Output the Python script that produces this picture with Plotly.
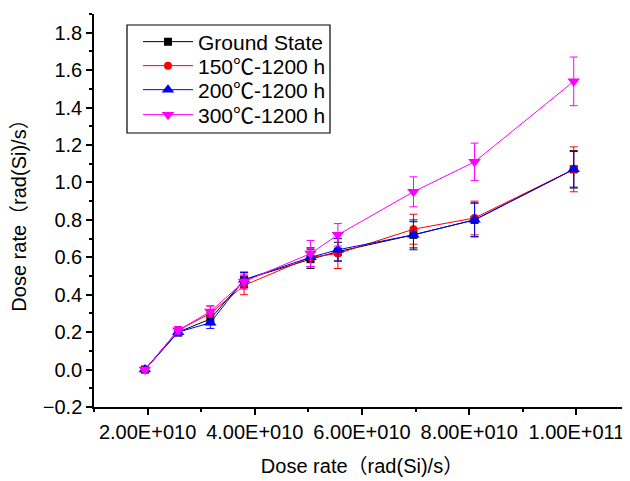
import plotly.graph_objects as go

dose_rate = [1.95e10, 2.57e10, 3.17e10, 3.8e10, 5.04e10, 5.55e10, 6.96e10, 8.1e10, 9.95e10]

ground = [0.0, 0.20, 0.27, 0.48, 0.59, 0.63, 0.72, 0.80, 1.07]
ground_err = [0.01, 0.02, 0.03, 0.04, 0.05, 0.05, 0.07, 0.09, 0.10]

t150 = [0.0, 0.21, 0.30, 0.45, 0.60, 0.62, 0.75, 0.81, 1.07]
t150_err = [0.01, 0.02, 0.04, 0.05, 0.05, 0.08, 0.08, 0.09, 0.12]

t200 = [0.0, 0.20, 0.25, 0.48, 0.60, 0.64, 0.72, 0.80, 1.07]
t200_err = [0.01, 0.02, 0.03, 0.04, 0.05, 0.06, 0.08, 0.09, 0.095]

t300 = [0.0, 0.21, 0.31, 0.47, 0.62, 0.72, 0.95, 1.11, 1.54]
t300_err = [0.01, 0.02, 0.03, 0.04, 0.07, 0.06, 0.08, 0.10, 0.13]

DEG = "<span style='font-family:Noto Sans CJK SC'>℃</span>"
series_names = ["Ground State", f"150{DEG}-1200 h", f"200{DEG}-1200 h", f"300{DEG}-1200 h"]
x_tickvals = [2e10, 4e10, 6e10, 8e10, 1e11]
x_ticktext = ["2.00E+010", "4.00E+010", "6.00E+010", "8.00E+010", "1.00E+011"]

styles = [
    ("black", "square", 8),
    ("red", "circle", 8),
    ("blue", "triangle-up", 11),
    ("magenta", "triangle-down", 11),
]
legend_ids = ["legend", "legend2", "legend3", "legend4"]

fig = go.Figure()
for name, ys, errs, (col, sym, sz), lg in zip(
    series_names,
    [ground, t150, t200, t300],
    [ground_err, t150_err, t200_err, t300_err],
    styles, legend_ids,
):
    fig.add_trace(go.Scatter(
        x=dose_rate, y=ys, name=name, mode="lines+markers", legend=lg,
        line=dict(color=col, width=1),
        marker=dict(color=col, symbol=sym, size=sz),
        error_y=dict(type="data", array=errs, visible=True, color=col,
                     thickness=1, width=4),
    ))

font_family = "Liberation Sans, Arial, Noto Sans CJK SC, sans-serif"
FS = 20

# plot area in window pixels: x 94..630, y 14..407
def py(p):
    return (407 - p) / 393.0

def px(p):
    return (p - 94) / 536.0

row_centers = [42, 66, 90, 115]
legends = {}
for lg, rc in zip(legend_ids, row_centers):
    legends[lg] = dict(
        x=px(138), y=py(rc), xanchor="left", yanchor="middle",
        borderwidth=0, bgcolor="rgba(0,0,0,0)",
        font=dict(size=21, family=font_family), itemwidth=50,
    )

fig.update_layout(
    width=622, height=473,
    margin=dict(l=86, r=0, t=6, b=74, autoexpand=False),
    paper_bgcolor="white", plot_bgcolor="white",
    font=dict(family=font_family, size=FS, color="black"),
    showlegend=True,
    shapes=[dict(type="rect", xref="paper", yref="paper",
                 x0=px(127), x1=px(330), y0=py(133), y1=py(25),
                 line=dict(color="black", width=1.2), fillcolor="white", layer="above")],
    xaxis=dict(
        range=[1e10, 1.1e11], automargin=False, tickangle=0,
        tickmode="array", tickvals=x_tickvals, ticktext=x_ticktext,
        ticks="outside", ticklen=6, tickwidth=1.5, tickcolor="black",
        minor=dict(tickmode="linear", tick0=1e10, dtick=2e10, ticks="outside",
                   ticklen=3, tickwidth=1.5, tickcolor="black"),
        showline=True, linecolor="black", linewidth=1.5,
        showgrid=False, zeroline=False,
        title=dict(text="Dose rate（rad(Si)/s）", font=dict(size=FS), standoff=17),
        tickfont=dict(size=FS),
    ),
    yaxis=dict(
        range=[-0.2, 1.9], automargin=False,
        tickmode="linear", tick0=0, dtick=0.2, tickformat=".1f",
        ticks="outside", ticklen=6, tickwidth=1.5, tickcolor="black",
        minor=dict(tickmode="linear", tick0=0.1, dtick=0.2, ticks="outside",
                   ticklen=3, tickwidth=1.5, tickcolor="black"),
        showline=True, linecolor="black", linewidth=1.5,
        showgrid=False, zeroline=False,
        title=dict(text="Dose rate（rad(Si)/s）", font=dict(size=FS), standoff=14),
        tickfont=dict(size=FS),
    ),
    **legends,
)

fig.write_html("out.html")
